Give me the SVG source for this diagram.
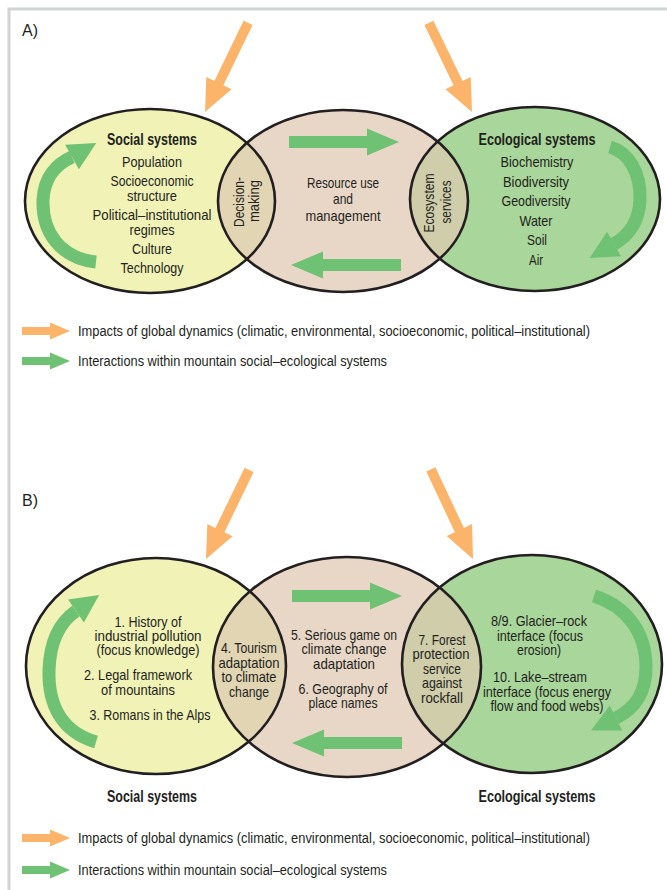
<svg xmlns="http://www.w3.org/2000/svg" xmlns:xlink="http://www.w3.org/1999/xlink" width="667" height="890" viewBox="0 0 667 890">
<style>
text{font-family:"Liberation Sans",Arial,sans-serif;fill:#231f20;font-size:15px;text-anchor:middle}
.b{font-weight:bold;font-size:16px}
.l{text-anchor:start}
.lg{font-size:14px}
.out{fill:none;stroke:#231f20;stroke-width:2.6}
.soc{fill:#f0f2b6}.mid{fill:#e8d7c6}.eco{fill:#a9d69a}
.lensA{fill:#e2d5b3}.lensB{fill:#cfcdaa}
.or{fill:#fbb469}.gr{fill:#6fc173}
.cg{fill:none;stroke:#6fc173;stroke-width:13}
</style>
<defs>
<path id="oArrow" d="M0,0 L-32,-14 L-32,-5 L-99,-5 L-99,5 L-32,5 L-32,14 Z"/>
<path id="gArrow" d="M0,0 L-32,-13.5 L-32,-6 L-110,-6 L-110,6 L-32,6 L-32,13.5 Z"/>
<path id="lArrow" d="M0,0 L-20,-8.5 L-20,-4 L-48,-4 L-48,4 L-20,4 L-20,8.5 Z"/>
<clipPath id="cA1"><ellipse cx="150" cy="201" rx="125" ry="92"/></clipPath>
<clipPath id="cA2"><ellipse cx="535" cy="199" rx="125" ry="92"/></clipPath>
<clipPath id="cB1"><ellipse cx="156" cy="666" rx="130" ry="108"/></clipPath>
<clipPath id="cB2"><ellipse cx="532" cy="664" rx="130" ry="109"/></clipPath>
</defs>
<rect x="9" y="9" width="700" height="900" fill="#fff" stroke="#d1d3d4" stroke-width="3"/>

<!-- Panel A -->
<text class="l" x="22" y="36" style="font-size:16px">A)</text>
<g id="A-social"><ellipse class="soc" cx="150" cy="201" rx="125" ry="92"/></g>
<g id="A-middle"><ellipse class="mid" cx="343" cy="201" rx="125" ry="91"/></g>
<g id="A-eco"><ellipse class="eco" cx="535" cy="199" rx="125" ry="92"/></g>
<g id="A-decision"><ellipse class="lensA" cx="343" cy="201" rx="125" ry="91" clip-path="url(#cA1)"/></g>
<g id="A-services"><ellipse class="lensB" cx="343" cy="201" rx="125" ry="91" clip-path="url(#cA2)"/></g>
<g id="A-outlines">
<ellipse class="out" cx="150" cy="201" rx="125" ry="92"/>
<ellipse class="out" cx="343" cy="201" rx="125" ry="91"/>
<ellipse class="out" cx="535" cy="199" rx="125" ry="92"/>
</g>
<g id="A-connectors">
<use xlink:href="#oArrow" class="or" transform="translate(205,112) rotate(115.8)"/>
<use xlink:href="#oArrow" class="or" transform="translate(472,112) rotate(64.2)"/>
<use xlink:href="#gArrow" class="gr" transform="translate(399,142)"/>
<use xlink:href="#gArrow" class="gr" transform="translate(291,265) rotate(180)"/>
<path class="cg" d="M96 262 C60 258,42 232,43 200 C44 178,56 164,72 157"/>
<polygon class="gr" points="96.3,143 65.1,144.8 78.9,169.2"/>
<path class="cg" d="M610 147 C628 152,641 172,640 200 C639 222,628 236,614 244"/>
<polygon class="gr" points="589.7,257.9 620.9,256.2 607.1,231.8"/>
</g>
<g id="A-texts">
<text class="b" x="152" y="145" textLength="90" lengthAdjust="spacingAndGlyphs">Social systems</text>
<text x="152" y="167" textLength="60" lengthAdjust="spacingAndGlyphs">Population</text>
<text x="152" y="186" textLength="83" lengthAdjust="spacingAndGlyphs">Socioeconomic</text>
<text x="152" y="201" textLength="50" lengthAdjust="spacingAndGlyphs">structure</text>
<text x="152" y="220" textLength="119" lengthAdjust="spacingAndGlyphs">Political–institutional</text>
<text x="152" y="235" textLength="45" lengthAdjust="spacingAndGlyphs">regimes</text>
<text x="152" y="254" textLength="40" lengthAdjust="spacingAndGlyphs">Culture</text>
<text x="152" y="273" textLength="63" lengthAdjust="spacingAndGlyphs">Technology</text>
<text transform="translate(244,202) rotate(-90)" textLength="50" lengthAdjust="spacingAndGlyphs">Decision-</text>
<text transform="translate(259,201) rotate(-90)" textLength="42" lengthAdjust="spacingAndGlyphs">making</text>
<text x="343" y="188" textLength="72" lengthAdjust="spacingAndGlyphs">Resource use</text>
<text x="343" y="204" textLength="20" lengthAdjust="spacingAndGlyphs">and</text>
<text x="343" y="221" textLength="75" lengthAdjust="spacingAndGlyphs">management</text>
<text transform="translate(434,203) rotate(-90)" textLength="59" lengthAdjust="spacingAndGlyphs">Ecosystem</text>
<text transform="translate(451,202) rotate(-90)" textLength="43" lengthAdjust="spacingAndGlyphs">services</text>
<text class="b" x="537" y="145" textLength="117" lengthAdjust="spacingAndGlyphs">Ecological systems</text>
<text x="537" y="167" textLength="73" lengthAdjust="spacingAndGlyphs">Biochemistry</text>
<text x="536" y="187" textLength="66" lengthAdjust="spacingAndGlyphs">Biodiversity</text>
<text x="536" y="206" textLength="69" lengthAdjust="spacingAndGlyphs">Geodiversity</text>
<text x="536" y="226" textLength="33" lengthAdjust="spacingAndGlyphs">Water</text>
<text x="537" y="245" textLength="20" lengthAdjust="spacingAndGlyphs">Soil</text>
<text x="536" y="265" textLength="14" lengthAdjust="spacingAndGlyphs">Air</text>
</g>
<g id="A-legend">
<use xlink:href="#lArrow" class="or" transform="translate(70,331)"/>
<use xlink:href="#lArrow" class="gr" transform="translate(70,361)"/>
<text class="l lg" x="78" y="336" textLength="512" lengthAdjust="spacingAndGlyphs">Impacts of global dynamics (climatic, environmental, socioeconomic, political–institutional)</text>
<text class="l lg" x="78" y="366" textLength="309" lengthAdjust="spacingAndGlyphs">Interactions within mountain social–ecological systems</text>
</g>

<!-- Panel B -->
<text class="l" x="22" y="506" style="font-size:16px">B)</text>
<g id="B-social"><ellipse class="soc" cx="156" cy="666" rx="130" ry="108"/></g>
<g id="B-middle"><ellipse class="mid" cx="347" cy="667" rx="134" ry="110"/></g>
<g id="B-eco"><ellipse class="eco" cx="532" cy="664" rx="130" ry="109"/></g>
<g id="B-tourism"><ellipse class="lensA" cx="347" cy="667" rx="134" ry="110" clip-path="url(#cB1)"/></g>
<g id="B-forest"><ellipse class="lensB" cx="347" cy="667" rx="134" ry="110" clip-path="url(#cB2)"/></g>
<g id="B-outlines">
<ellipse class="out" cx="156" cy="666" rx="130" ry="108"/>
<ellipse class="out" cx="347" cy="667" rx="134" ry="110"/>
<ellipse class="out" cx="532" cy="664" rx="130" ry="109"/>
</g>
<g id="B-connectors">
<use xlink:href="#oArrow" class="or" transform="translate(206,559) rotate(115.8)"/>
<use xlink:href="#oArrow" class="or" transform="translate(473,559) rotate(64.8)"/>
<use xlink:href="#gArrow" class="gr" transform="translate(402,596)"/>
<use xlink:href="#gArrow" class="gr" transform="translate(292,743) rotate(180)"/>
<path class="cg" d="M96 742 C62 732,48 705,49 670 C50 640,60 622,76 611"/>
<polygon class="gr" points="99.1,595.1 68.1,599.5 83.9,622.5"/>
<path class="cg" d="M594 596 C626 606,646 632,646 667 C646 692,636 708,616 718"/>
<polygon class="gr" points="591,730.5 622.3,730.5 609.7,705.5"/>
</g>
<g id="B-texts">
<text x="148" y="627" textLength="67" lengthAdjust="spacingAndGlyphs">1. History of</text>
<text x="148" y="641" textLength="107" lengthAdjust="spacingAndGlyphs">industrial pollution</text>
<text x="148" y="655" textLength="103" lengthAdjust="spacingAndGlyphs">(focus knowledge)</text>
<text x="138" y="680" textLength="108" lengthAdjust="spacingAndGlyphs">2. Legal framework</text>
<text x="138" y="695" textLength="74" lengthAdjust="spacingAndGlyphs">of mountains</text>
<text x="150" y="720" textLength="121" lengthAdjust="spacingAndGlyphs">3. Romans in the Alps</text>
<text x="249" y="653" textLength="56" lengthAdjust="spacingAndGlyphs">4. Tourism</text>
<text x="249" y="668" textLength="61" lengthAdjust="spacingAndGlyphs">adaptation</text>
<text x="249" y="682" textLength="55" lengthAdjust="spacingAndGlyphs">to climate</text>
<text x="249" y="697" textLength="40" lengthAdjust="spacingAndGlyphs">change</text>
<text x="344" y="640" textLength="106" lengthAdjust="spacingAndGlyphs">5. Serious game on</text>
<text x="344" y="654" textLength="85" lengthAdjust="spacingAndGlyphs">climate change</text>
<text x="344" y="669" textLength="62" lengthAdjust="spacingAndGlyphs">adaptation</text>
<text x="343" y="694" textLength="89" lengthAdjust="spacingAndGlyphs">6. Geography of</text>
<text x="343" y="708" textLength="69" lengthAdjust="spacingAndGlyphs">place names</text>
<text x="442" y="645" textLength="47" lengthAdjust="spacingAndGlyphs">7. Forest</text>
<text x="441" y="659" textLength="57" lengthAdjust="spacingAndGlyphs">protection</text>
<text x="442" y="674" textLength="38" lengthAdjust="spacingAndGlyphs">service</text>
<text x="442" y="688" textLength="40" lengthAdjust="spacingAndGlyphs">against</text>
<text x="442" y="703" textLength="42" lengthAdjust="spacingAndGlyphs">rockfall</text>
<text x="539" y="626" textLength="96" lengthAdjust="spacingAndGlyphs">8/9. Glacier–rock</text>
<text x="540" y="641" textLength="86" lengthAdjust="spacingAndGlyphs">interface (focus</text>
<text x="539" y="655" textLength="44" lengthAdjust="spacingAndGlyphs">erosion)</text>
<text x="540" y="682" textLength="94" lengthAdjust="spacingAndGlyphs">10. Lake–stream</text>
<text x="547" y="697" textLength="128" lengthAdjust="spacingAndGlyphs">interface (focus energy</text>
<text x="547" y="711" textLength="113" lengthAdjust="spacingAndGlyphs">flow and food webs)</text>
<text class="b" x="152" y="802" textLength="90" lengthAdjust="spacingAndGlyphs">Social systems</text>
<text class="b" x="537" y="802" textLength="117" lengthAdjust="spacingAndGlyphs">Ecological systems</text>
</g>
<g id="B-legend">
<use xlink:href="#lArrow" class="or" transform="translate(70,838)"/>
<use xlink:href="#lArrow" class="gr" transform="translate(70,870)"/>
<text class="l lg" x="78" y="843" textLength="512" lengthAdjust="spacingAndGlyphs">Impacts of global dynamics (climatic, environmental, socioeconomic, political–institutional)</text>
<text class="l lg" x="78" y="875" textLength="309" lengthAdjust="spacingAndGlyphs">Interactions within mountain social–ecological systems</text>
</g>
</svg>
